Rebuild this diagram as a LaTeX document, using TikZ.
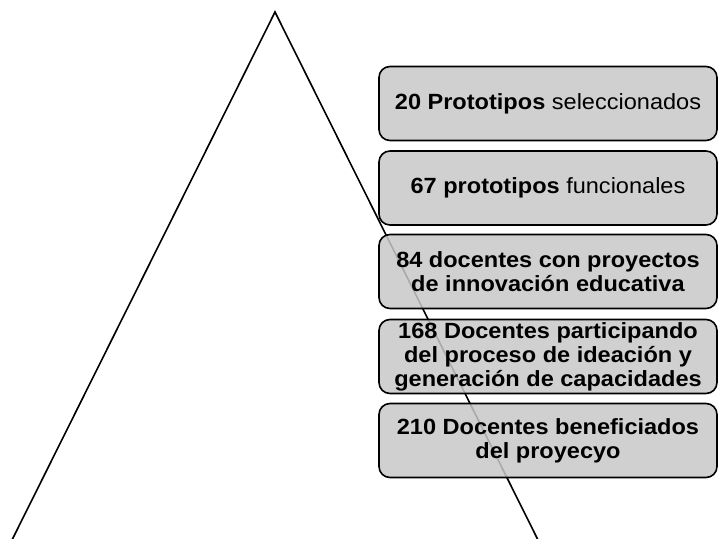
\documentclass[tikz,border=0pt]{standalone}
\usepackage{fontspec}
\setmainfont[FakeStretch=1.07]{Liberation Sans}
\begin{document}
\begin{tikzpicture}[x=1pt,y=-1pt,
  tri/.style={line width=1.6pt,line join=miter},
  lvl/.style={draw=black,line width=1.6pt,rounded corners=11pt,fill={rgb,255:red,200;green,200;blue,200},
    fill opacity=0.85,text opacity=1,minimum width=338pt,minimum height=74pt,inner sep=0pt,
    align=center,font=\fontsize{22}{24}\selectfont}]
\useasboundingbox (0,0) rectangle (719,538);
\coordinate (apex) at (275,12);
\coordinate (bl) at (12,540);
\coordinate (br) at (538,540);
\draw[tri] (bl) -- (apex) -- (br);
\node[lvl] (b1) at (548,103.5) {\textbf{20 Prototipos} seleccionados};
\node[lvl] (b2) at (548,188) {\textbf{67 prototipos} funcionales};
\node[lvl] (b3) at (548,271.5) {\textbf{84 docentes con proyectos}\\\textbf{de innovación educativa}};
\node[lvl] (b4) at (548,356.5) {\textbf{168 Docentes participando}\\\textbf{del proceso de ideación y}\\\textbf{generación de capacidades}};
\node[lvl] (b5) at (548,440.5) {\textbf{210 Docentes beneficiados}\\\textbf{del proyecyo}};
\end{tikzpicture}
\end{document}
